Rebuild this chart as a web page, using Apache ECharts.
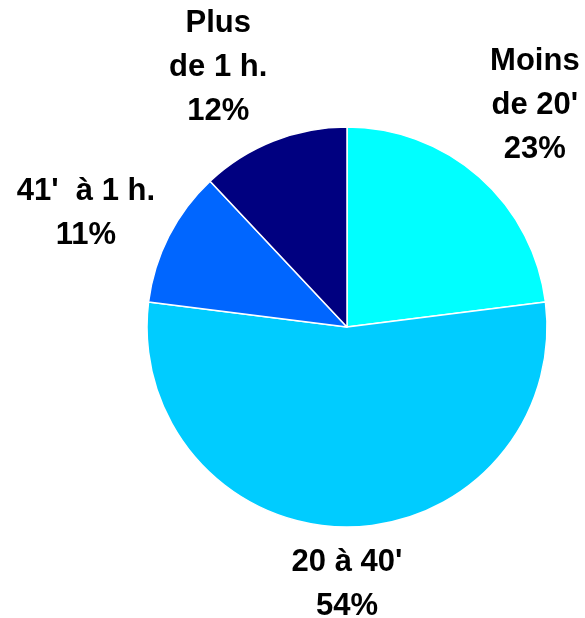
<!DOCTYPE html>
<html>
<head>
<meta charset="utf-8">
<script src="https://cdn.jsdelivr.net/npm/echarts@6/dist/echarts.min.js"></script>
<style>
  html, body { margin: 0; padding: 0; background: #fff; }
  #main { width: 585px; height: 618px; }
</style>
</head>
<body>
<div id="main"></div>
<script>
  // catégories et valeurs (%)
  var categories = ["Moins\nde 20'", "20 à 40'", "41'  à 1 h.", "Plus\nde 1 h."];
  var values = [23, 54, 11, 12];
  var colors = ['#00FFFF', '#00CCFF', '#0066FF', '#000080'];

  var chart = echarts.init(document.getElementById('main'));

  var cx = 347, cy = 327, R = 200, gap = 8;
  var total = values.reduce(function (a, b) { return a + b; }, 0);

  // angle milieu de chaque part (depuis le haut, sens horaire)
  function midAngle(i) {
    var acc = 0;
    for (var k = 0; k < i; k++) acc += values[k];
    return (acc + values[i] / 2) / total * Math.PI * 2;
  }

  // petits décalages des étiquettes (comme dans l'original)
  var nudge = [[-2, -6], [0, 5], [-3, 18], [-23, 8]];

  var option = {
    animation: false,
    series: [{
      type: 'pie',
      center: [cx, cy],
      radius: R,
      startAngle: 90,
      clockwise: true,
      itemStyle: { borderColor: '#ffffff', borderWidth: 1.5 },
      label: {
        show: true,
        position: 'outside',
        overflow: 'none',
        fontFamily: 'Liberation Sans, Arial, sans-serif',
        fontWeight: 'bold',
        fontSize: 31,
        lineHeight: 44,
        color: '#000',
        align: 'center',
        formatter: function (p) { return p.name + '\n' + p.value + '%'; }
      },
      labelLine: { show: false },
      labelLayout: function (p) {
        var a = midAngle(p.dataIndex);
        var sx = Math.sin(a), sy = -Math.cos(a);
        var hw = p.labelRect.width / 2, hh = p.labelRect.height / 2;
        var d = R + gap + hw * Math.abs(sx) + hh * Math.abs(sy);
        var n = nudge[p.dataIndex];
        return { x: cx + d * sx + n[0], y: cy + d * sy + n[1], align: 'center', verticalAlign: 'middle' };
      },
      data: categories.map(function (c, i) {
        return { name: c, value: values[i], itemStyle: { color: colors[i] } };
      })
    }]
  };
  chart.setOption(option);
</script>
</body>
</html>
